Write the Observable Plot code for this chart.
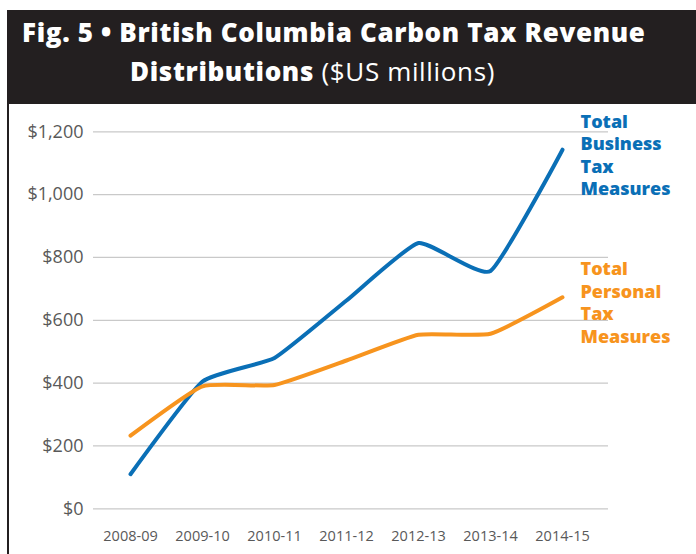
<!DOCTYPE html>
<html>
<head>
<meta charset="utf-8">
<script src="https://cdn.jsdelivr.net/npm/d3@7"></script>
<script src="https://cdn.jsdelivr.net/npm/@observablehq/plot@0.6"></script>
<style>
  html, body { margin: 0; padding: 0; background: #fff; }
  body { width: 696px; height: 554px; position: relative; overflow: hidden; font-family: "Open Sans", sans-serif; }
  #frame { position: absolute; left: 7px; top: 10px; width: 689px; height: 544px; border-left: 2px solid #231f20; box-sizing: border-box; }
  #title { position: absolute; left: 7px; top: 10px; width: 689px; height: 94px; background: #231f20; color: #fff;
           font-family: "Open Sans", sans-serif; font-weight: 800; font-size: 26px; letter-spacing: 0.65px; line-height: 39px; box-sizing: border-box; padding-top: 3px; }
  #title .l1 { padding-left: 15px; white-space: nowrap; }
  #title .l2 { padding-left: 123px; white-space: nowrap; }
  #title .l2 span { font-weight: 400; }
  #chart { position: absolute; left: 0; top: 104px; }
</style>
</head>
<body>
<div id="frame"></div>
<div id="title">
  <div class="l1">Fig. 5 • British Columbia Carbon Tax Revenue</div>
  <div class="l2">Distributions <span>($US millions)</span></div>
</div>
<div id="chart"></div>
<script>
const years = ["2008-09", "2009-10", "2010-11", "2011-12", "2012-13", "2013-14", "2014-15"];
const business = [110, 405, 480, 663, 846, 757, 1143];
const personal = [233, 390, 394, 472, 554, 557, 673];
const yTicks = [0, 200, 400, 600, 800, 1000, 1200];
const seriesNames = ["Total\nBusiness\nTax\nMeasures", "Total\nPersonal\nTax\nMeasures"];
const seriesColors = ["#0a6fb6", "#f7941e"];

const data = years.flatMap((yr, i) => [
  {year: yr, value: business[i], series: seriesNames[0]},
  {year: yr, value: personal[i], series: seriesNames[1]}
]);
const lastPoints = seriesNames.map(s => data.filter(d => d.series === s).at(-1));

const chart = Plot.plot({
  width: 696,
  height: 450,
  marginLeft: 93,
  marginRight: 88,
  marginTop: 27.3,
  marginBottom: 45.7,
  style: {fontFamily: "'Open Sans', sans-serif", background: "transparent", overflow: "visible"},
  x: {type: "point", domain: years, insetLeft: 35, insetRight: 45, padding: 0},
  y: {domain: [0, 1200]},
  color: {domain: seriesNames, range: seriesColors},
  marks: [
    Plot.ruleY(yTicks, {stroke: "#c9c9c9", strokeWidth: 1.2}),
    Plot.axisY({ticks: yTicks, tickSize: 0, tickPadding: 10, fontSize: 18, fill: "#595959",
                tickFormat: d => "$" + d3.format(",")(d), label: null}),
    Plot.axisX({tickSize: 0, tickPadding: 22, fontSize: 14.5, fill: "#595959", label: null}),
    Plot.line(data, {x: "year", y: "value", z: "series", stroke: "series", strokeWidth: 4,
                     curve: "cardinal", tension: 0.55, strokeLinecap: "round", strokeLinejoin: "round"}),
    Plot.text(lastPoints, {x: "year", y: "value", text: "series", fill: "series",
                           textAnchor: "start", lineAnchor: "top", dx: 18, dy: -38,
                           fontSize: 18, fontWeight: 800, lineHeight: 1.25})
  ]
});
document.getElementById("chart").appendChild(chart);
</script>
</body>
</html>
